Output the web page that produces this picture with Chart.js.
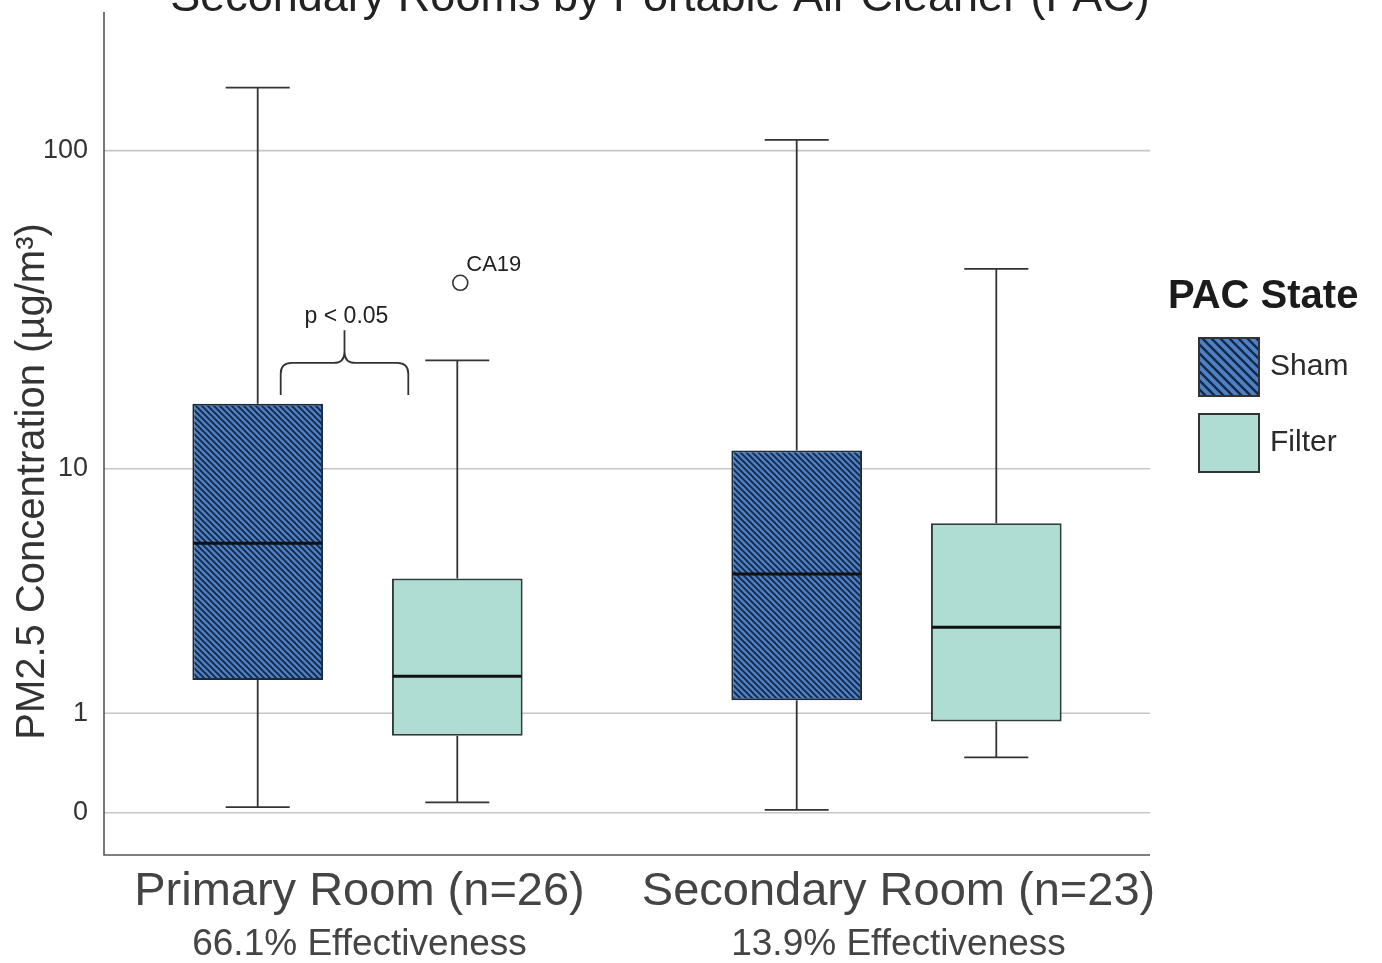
<!DOCTYPE html>
<html>
<head>
<meta charset="utf-8">
<title>PM2.5 by Portable Air Cleaner state</title>
<script src="https://cdn.jsdelivr.net/npm/chart.js@4.4.1/dist/chart.umd.min.js"></script>
<style>
  html, body { margin: 0; padding: 0; background: #fff; }
  #wrap { width: 1382px; height: 963px; }
</style>
</head>
<body>
<div id="wrap"><canvas id="chart" width="1382" height="963"></canvas></div>
<script>
(function () {
  'use strict';

  /* ---- data (µg/m³) ---- */
  const rooms = ['Primary Room (n=26)', 'Secondary Room (n=23)'];
  const effectiveness = ['66.1% Effectiveness', '13.9% Effectiveness'];
  const states = ['Sham', 'Filter'];

  const shamMin = [0.04, 0.02];
  const shamQ1 = [1.52, 1.19];
  const shamMedian = [5.54, 4.28];
  const shamQ3 = [16.3, 11.5];
  const shamMax = [155.7, 107.8];
  const shamOutliers = [[], []];
  const shamOutlierIds = [[], []];

  const filterMin = [0.075, 0.47];
  const filterQ1 = [0.71, 0.89];
  const filterMedian = [1.59, 2.64];
  const filterQ3 = [4.12, 6.52];
  const filterMax = [22.4, 43.3];
  const filterOutliers = [[39.2], []];
  const filterOutlierIds = [['CA19'], []];

  const yTicks = [0, 1, 10, 100];
  const yTitle = 'PM2.5 Concentration (µg/m³)';
  const chartTitle = 'Secondary Rooms by Portable Air Cleaner (PAC)';
  const legendTitle = 'PAC State';

  // significance bracket between Sham and Filter in the primary room
  const bracketRoom = 0;
  const bracketValues = [17.4, 22.0, 27.9];   // ends, bar, tip
  const bracketText = 'p < 0.05';

  /* ---- helpers ---- */
  const FONT = "'Liberation Sans', Arial, Helvetica, sans-serif";
  const toAxis = v => Math.log10(v + 1);      // axis is log10(x + 1)
  const insetLeft = 16;
  const insetRight = 16;

  function makeHatch(period, lineWidth, base, stripe) {
    const c = document.createElement('canvas');
    c.width = c.height = period;
    const g = c.getContext('2d');
    g.fillStyle = base;
    g.fillRect(0, 0, period, period);
    g.strokeStyle = stripe;
    g.lineWidth = lineWidth;
    g.beginPath();
    g.moveTo(-2, -2); g.lineTo(period + 2, period + 2);
    g.moveTo(period - 3, -3); g.lineTo(period + 3, 3);
    g.moveTo(-3, period - 3); g.lineTo(3, period + 3);
    g.stroke();
    return document.getElementById('chart').getContext('2d').createPattern(c, 'repeat');
  }

  const shamPattern = makeHatch(6, 1.9, '#4e80c2', '#14294a');
  const shamLegendPattern = makeHatch(9, 2.4, '#4e80c2', '#14294a');
  const filterColor = '#afdcd3';

  const stats = [
    { min: shamMin, q1: shamQ1, med: shamMedian, q3: shamQ3, max: shamMax, out: shamOutliers, ids: shamOutlierIds },
    { min: filterMin, q1: filterQ1, med: filterMedian, q3: filterQ3, max: filterMax, out: filterOutliers, ids: filterOutlierIds }
  ];

  Chart.defaults.font.family = FONT;

  /* gridlines and spines, inset from the category area */
  const framePlugin = {
    id: 'frame',
    beforeDatasetsDraw(chart) {
      const { ctx, chartArea, scales: { y } } = chart;
      const left = chartArea.left + insetLeft;
      const right = chartArea.right - insetRight;
      ctx.save();
      ctx.strokeStyle = '#c6c6c6';
      ctx.lineWidth = 1.6;
      y.ticks.forEach(t => {
        const py = y.getPixelForValue(t.value);
        ctx.beginPath();
        ctx.moveTo(left, py);
        ctx.lineTo(right, py);
        ctx.stroke();
      });
      ctx.strokeStyle = '#555';
      ctx.lineWidth = 1.6;
      ctx.beginPath();
      ctx.moveTo(left, chartArea.top);
      ctx.lineTo(left, chartArea.bottom);
      ctx.lineTo(right, chartArea.bottom);
      ctx.stroke();
      ctx.restore();
    }
  };

  /* whiskers, medians and outliers on top of the floating bars */
  const boxPlotPlugin = {
    id: 'boxPlot',
    beforeDatasetsDraw(chart) {
      const { ctx, scales: { y } } = chart;
      ctx.save();
      ctx.strokeStyle = '#333';
      ctx.lineWidth = 1.8;
      chart.data.datasets.forEach((ds, d) => {
        const s = stats[d];
        chart.getDatasetMeta(d).data.forEach((bar, i) => {
          const x = bar.x;
          const half = bar.width * 0.245;
          const yMin = y.getPixelForValue(toAxis(s.min[i]));
          const yQ1 = y.getPixelForValue(toAxis(s.q1[i]));
          const yQ3 = y.getPixelForValue(toAxis(s.q3[i]));
          const yMax = y.getPixelForValue(toAxis(s.max[i]));
          ctx.beginPath();
          ctx.moveTo(x, yQ3); ctx.lineTo(x, yMax);
          ctx.moveTo(x - half, yMax); ctx.lineTo(x + half, yMax);
          ctx.moveTo(x, yQ1); ctx.lineTo(x, yMin);
          ctx.moveTo(x - half, yMin); ctx.lineTo(x + half, yMin);
          ctx.stroke();
        });
      });
      ctx.restore();
    },
    afterDatasetsDraw(chart) {
      const { ctx, scales: { y } } = chart;
      ctx.save();
      chart.data.datasets.forEach((ds, d) => {
        const s = stats[d];
        chart.getDatasetMeta(d).data.forEach((bar, i) => {
          const x = bar.x;
          const half = bar.width / 2 - 1;
          const yMed = y.getPixelForValue(toAxis(s.med[i]));
          ctx.strokeStyle = '#111';
          ctx.lineWidth = 3;
          ctx.beginPath();
          ctx.moveTo(x - half, yMed);
          ctx.lineTo(x + half, yMed);
          ctx.stroke();

          s.out[i].forEach((v, k) => {
            const px = x + 3;
            const py = y.getPixelForValue(toAxis(v));
            ctx.fillStyle = '#fff';
            ctx.strokeStyle = '#333';
            ctx.lineWidth = 1.6;
            ctx.beginPath();
            ctx.arc(px, py, 7.5, 0, Math.PI * 2);
            ctx.fill();
            ctx.stroke();
            ctx.fillStyle = '#222';
            ctx.font = `22px ${FONT}`;
            ctx.textAlign = 'left';
            ctx.textBaseline = 'alphabetic';
            ctx.fillText(s.ids[i][k], px + 6, py - 12);
          });
        });
      });
      ctx.restore();
    }
  };

  /* title, rotated y title and the significance brace */
  const annotationPlugin = {
    id: 'annotations',
    afterDraw(chart) {
      const { ctx, scales: { y } } = chart;
      ctx.save();

      ctx.fillStyle = '#222';
      ctx.font = `45px ${FONT}`;
      ctx.textAlign = 'center';
      ctx.textBaseline = 'alphabetic';
      ctx.fillText(chartTitle, 660, 11);

      ctx.save();
      ctx.translate(44, chart.height / 2);
      ctx.rotate(-Math.PI / 2);
      ctx.fillStyle = '#333';
      ctx.font = `40px ${FONT}`;
      ctx.fillText(yTitle, 0, 0);
      ctx.restore();

      const shamBar = chart.getDatasetMeta(0).data[bracketRoom];
      const filterBar = chart.getDatasetMeta(1).data[bracketRoom];
      const L = shamBar.x + 23;
      const R = filterBar.x - 49;
      const C = (L + R) / 2;
      const yEnd = y.getPixelForValue(toAxis(bracketValues[0]));
      const yBar = y.getPixelForValue(toAxis(bracketValues[1]));
      const yTip = y.getPixelForValue(toAxis(bracketValues[2]));
      const r = 11;
      ctx.strokeStyle = '#333';
      ctx.lineWidth = 1.8;
      ctx.beginPath();
      ctx.moveTo(L, yEnd);
      ctx.lineTo(L, yBar + r);
      ctx.quadraticCurveTo(L, yBar, L + r, yBar);
      ctx.lineTo(C - r, yBar);
      ctx.quadraticCurveTo(C, yBar, C, yBar - r);
      ctx.lineTo(C, yTip);
      ctx.moveTo(C, yBar - r);
      ctx.quadraticCurveTo(C, yBar, C + r, yBar);
      ctx.lineTo(R - r, yBar);
      ctx.quadraticCurveTo(R, yBar, R, yBar + r);
      ctx.lineTo(R, yEnd);
      ctx.stroke();

      ctx.fillStyle = '#222';
      ctx.font = `23px ${FONT}`;
      ctx.textAlign = 'center';
      ctx.fillText(bracketText, C + 2, yTip - 7);
      ctx.restore();
    }
  };

  /* legend on the right */
  const legendPlugin = {
    id: 'pacLegend',
    afterDraw(chart) {
      const { ctx } = chart;
      ctx.save();
      ctx.fillStyle = '#1b1b1b';
      ctx.font = `bold 40px ${FONT}`;
      ctx.textAlign = 'left';
      ctx.textBaseline = 'middle';
      ctx.fillText(legendTitle, 1168, 297);
      chart.data.datasets.forEach((ds, i) => {
        const top = 338 + i * 76;
        ctx.fillStyle = i === 0 ? shamLegendPattern : ds.backgroundColor;
        ctx.fillRect(1199, top, 60, 58);
        ctx.strokeStyle = '#333';
        ctx.lineWidth = 2;
        ctx.strokeRect(1199, top, 60, 58);
        ctx.fillStyle = '#2a2a2a';
        ctx.font = `30px ${FONT}`;
        ctx.fillText(ds.label, 1270, top + 29);
      });
      ctx.restore();
    }
  };

  new Chart(document.getElementById('chart'), {
    type: 'bar',
    data: {
      labels: rooms,
      datasets: [
        {
          label: states[0],
          data: rooms.map((_, i) => [toAxis(shamQ1[i]), toAxis(shamQ3[i])]),
          backgroundColor: shamPattern,
          borderColor: '#1b2a3d',
          borderWidth: 2,
          borderSkipped: false
        },
        {
          label: states[1],
          data: rooms.map((_, i) => [toAxis(filterQ1[i]), toAxis(filterQ3[i])]),
          backgroundColor: filterColor,
          borderColor: '#2e3d3b',
          borderWidth: 2,
          borderSkipped: false
        }
      ]
    },
    options: {
      responsive: false,
      animation: false,
      devicePixelRatio: 1,
      categoryPercentage: 0.7406,
      barPercentage: 0.6548,
      layout: { padding: { top: 12, right: 216, bottom: 0, left: 0 } },
      plugins: {
        legend: { display: false },
        tooltip: { enabled: false },
        title: { display: false }
      },
      scales: {
        x: {
          type: 'category',
          position: 'bottom',
          offset: true,
          grid: { display: false, drawTicks: false },
          border: { display: false },
          ticks: {
            font: { size: 47 },
            color: '#444',
            padding: 9,
            maxRotation: 0,
            autoSkip: false,
            labelOffset: 2
          },
          afterFit: s => { s.height = 65; s.paddingLeft = 0; s.paddingRight = 0; }
        },
        x2: {
          type: 'category',
          position: 'bottom',
          weight: 1,
          labels: effectiveness,
          offset: true,
          grid: { display: false, drawTicks: false },
          border: { display: false },
          ticks: {
            font: { size: 37 },
            color: '#444',
            padding: 3,
            maxRotation: 0,
            autoSkip: false,
            labelOffset: 2
          },
          afterFit: s => { s.height = 43; s.paddingLeft = 0; s.paddingRight = 0; }
        },
        y: {
          type: 'linear',
          min: -0.128,
          max: 2.424,
          grid: { display: false, drawTicks: false },
          border: { display: false },
          afterBuildTicks: s => { s.ticks = yTicks.map(v => ({ value: toAxis(v) })); },
          ticks: {
            callback: (val, i) => String(yTicks[i]),
            font: { size: 27 },
            color: '#333',
            padding: 0
          },
          afterFit: s => { s.width = 88; s.paddingTop = 0; s.paddingBottom = 0; }
        }
      }
    },
    plugins: [framePlugin, boxPlotPlugin, annotationPlugin, legendPlugin]
  });
})();
</script>
</body>
</html>
